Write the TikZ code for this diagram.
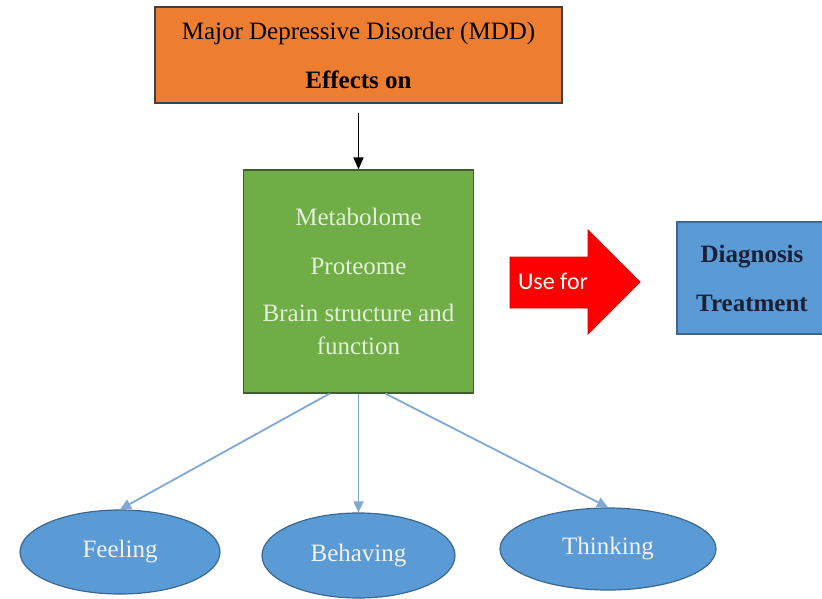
\documentclass[tikz,border=0pt]{standalone}
\usepackage{fontspec}
\setmainfont{Liberation Serif}
\newfontfamily\calib{Carlito}
\usetikzlibrary{arrows.meta,shapes.geometric}

\definecolor{mddorange}{HTML}{ED7D31}
\definecolor{omegreen}{HTML}{70AD47}
\definecolor{omeborder}{HTML}{3F5F2F}
\definecolor{paleleaf}{HTML}{E2F0D9}
\definecolor{useblue}{HTML}{5B9BD5}
\definecolor{usebord}{HTML}{3A6890}
\definecolor{navytext}{HTML}{1A2038}
\definecolor{linkblue}{HTML}{7FA8D3}

\tikzset{
  bigbox/.style={draw=black!75, line width=1.2pt, inner sep=0pt, align=center,
    font=\fontsize{25}{33}\selectfont},
  effect/.style={shape=ellipse, draw=usebord, line width=1.2pt, fill=useblue,
    minimum width=200pt, minimum height=84pt, inner sep=0pt, text=white!95!black,
    font=\fontsize{25}{28}\selectfont},
  link/.style={draw=linkblue, line width=1.8pt, -{Triangle[width=10pt,length=11pt]}},
}

\begin{document}
\begin{tikzpicture}[x=1pt, y=-1pt]
\useasboundingbox (0,0) rectangle (822,598);
\fill[white] (0,0) rectangle (822,598);

\node[bigbox, fill=mddorange, minimum width=407pt, minimum height=96pt] (mdd) at (358.5,55)
  {Major Depressive Disorder (MDD)\\[16pt]\textbf{Effects on}};
\node[bigbox, fill=omegreen, draw=omeborder, text=paleleaf, minimum width=230pt, minimum height=223pt] (omics) at (358.5,281.5)
  {Metabolome\\[16pt]Proteome\\[14pt]Brain structure and\\function};
\node[bigbox, fill=useblue, draw=usebord, text=navytext, minimum width=150pt, minimum height=112pt] (clinic) at (752,278)
  {\textbf{Diagnosis}\\[16pt]\textbf{Treatment}};

% red block arrow
\filldraw[fill=red, draw=red!80!black, line width=0.8pt]
  (510,257) -- (588,257) -- (588,230) -- (640,282) -- (588,334) -- (588,308) -- (510,308) -- cycle;
\node[text=white, font=\calib\fontsize{24}{28}\selectfont] (usefor) at (553,281) {Use for};

\node[effect] (feel) at (120,552) {Feeling};
\node[effect, minimum width=193pt, minimum height=85pt] (behave) at (358.5,555.5) {Behaving};
\node[effect, minimum width=216pt, minimum height=82pt] (think) at (608,549) {Thinking};

\draw[line width=1.6pt, -{Triangle[width=10pt,length=12pt]}] ([yshift=-9pt]mdd.south) -- (omics.north);
\draw[link] ([xshift=-29pt]omics.south) -- (feel.north);
\draw[link] (omics.south) -- (behave.north);
\draw[link] ([xshift=27pt]omics.south) -- (think.north);
\end{tikzpicture}
\end{document}
